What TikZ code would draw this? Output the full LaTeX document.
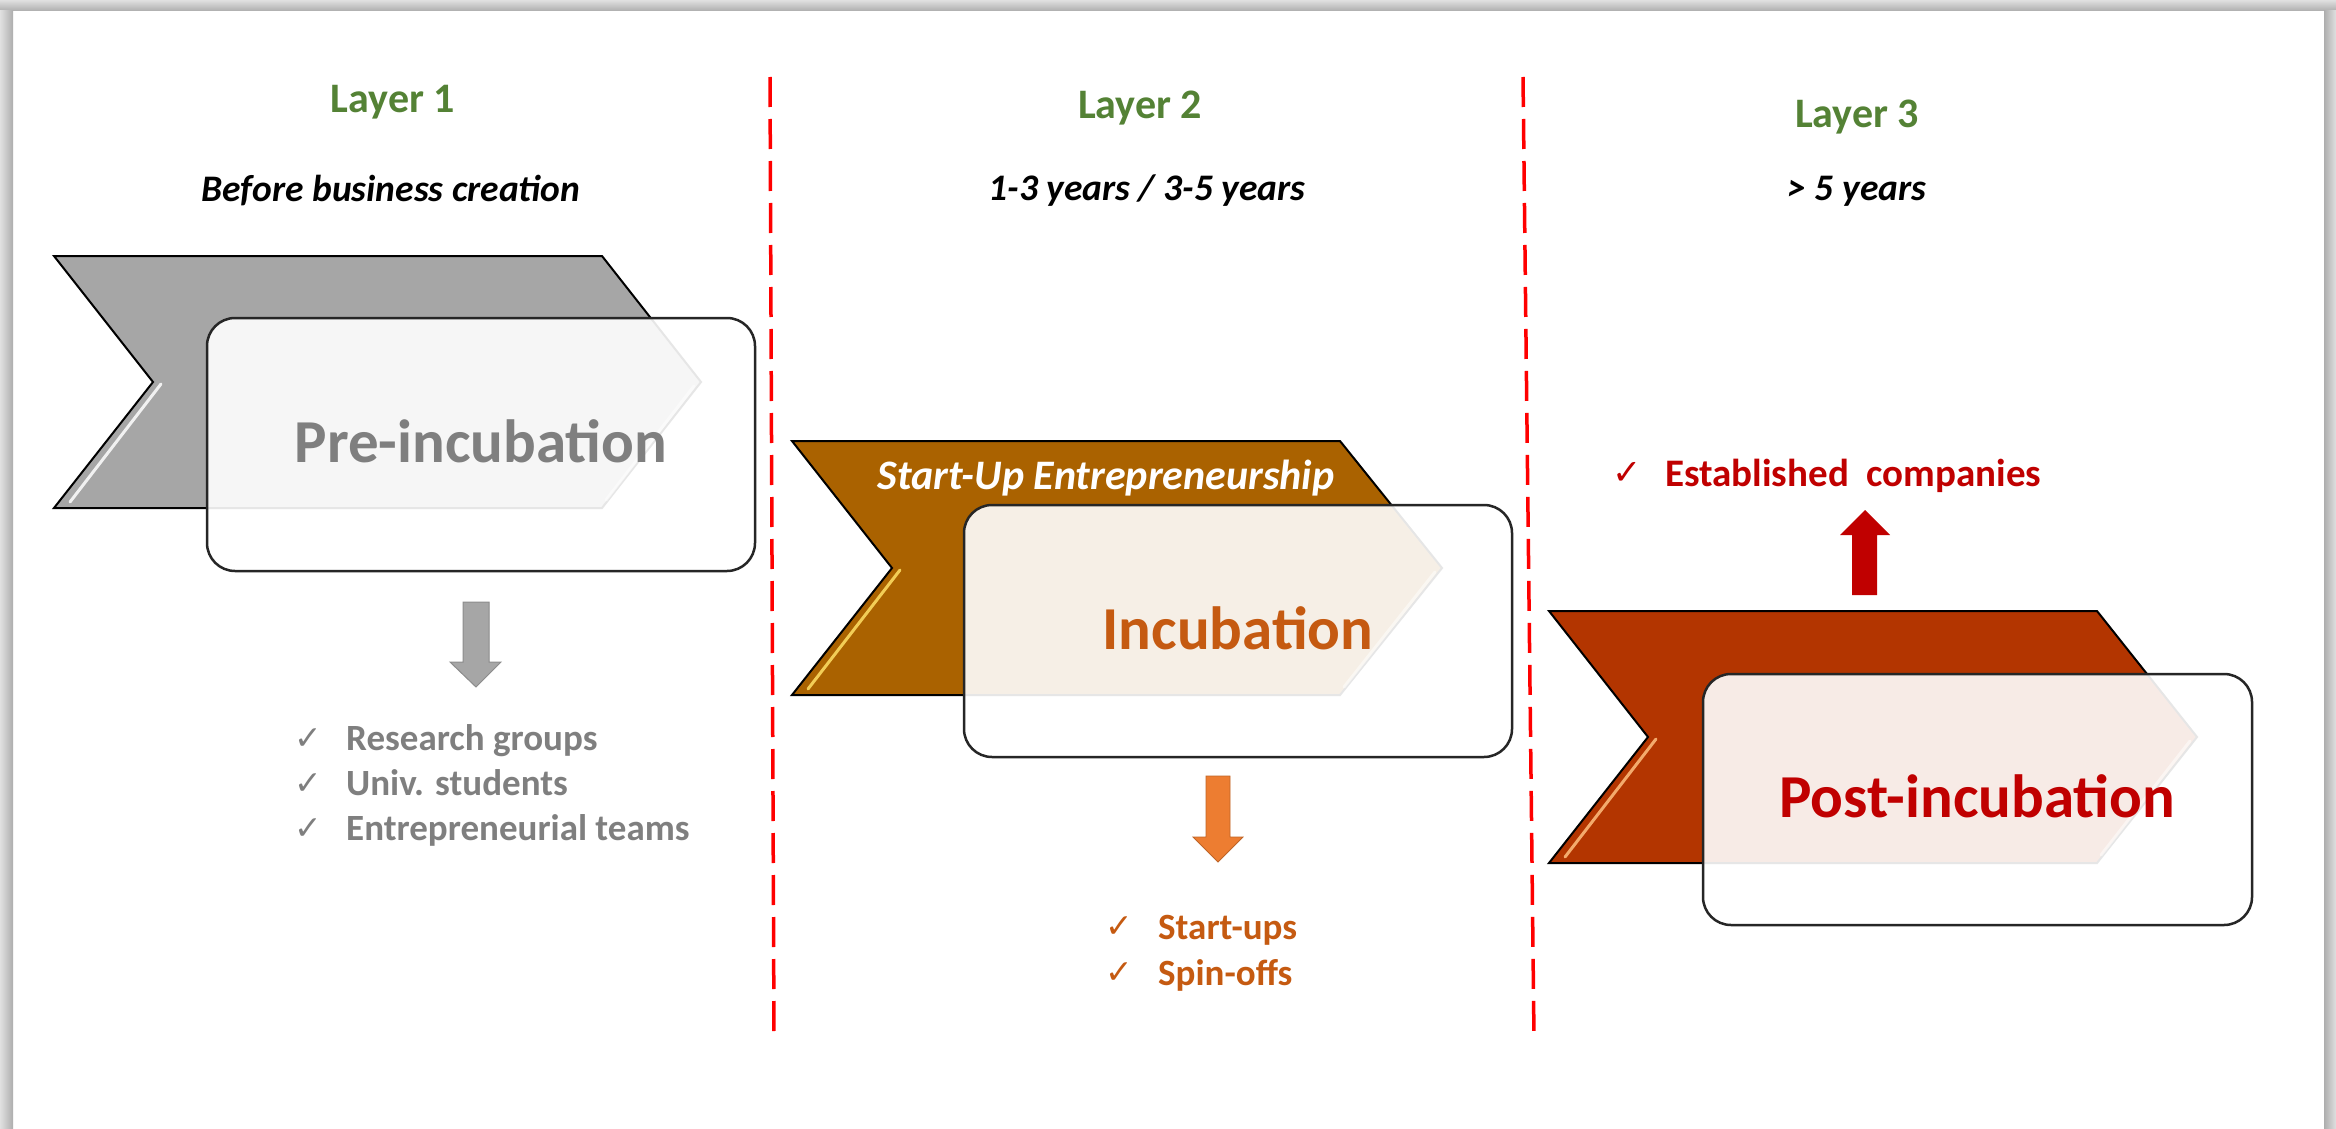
\documentclass[tikz,border=0pt]{standalone}
\usepackage{fontspec}
\setmainfont{Carlito}
\newfontfamily\chkfont{DejaVu Sans}
\usetikzlibrary{calc}
\definecolor{laygreen}{HTML}{548235}
\definecolor{chgray}{HTML}{A6A6A6}
\definecolor{chorange}{HTML}{AA6200}
\definecolor{chred}{HTML}{B33500}
\definecolor{txgray}{HTML}{7F7F7F}
\definecolor{txorange}{HTML}{C55A11}
\definecolor{arorange}{HTML}{ED7D31}
\definecolor{txred}{HTML}{C00000}
\definecolor{arrgray}{HTML}{A6A6A6}
\definecolor{divred}{HTML}{FF0000}
\tikzset{
  layer/.style={text=laygreen, font=\fontsize{42}{50}\selectfont\bfseries, anchor=base, inner sep=0pt},
  period/.style={text=black, font=\fontsize{37.5}{44}\selectfont\bfseries\itshape, anchor=base, inner sep=0pt},
  chevron/.style={draw=black, line width=2pt, line join=miter},
  glassbox/.style={draw=black!85, line width=2.5pt, rounded corners=28pt, fill=white, fill opacity=0.9, inner sep=0pt},
  mainlabel/.style={font=\fontsize{61}{70}\selectfont\bfseries, anchor=base, inner sep=0pt},
  listitem/.style={font=\fontsize{37}{42}\selectfont\bfseries, anchor=base west, inner sep=0pt},
  checkmark/.style={font=\chkfont\fontsize{33}{36}\selectfont, anchor=base west, inner sep=0pt},
  divider/.style={draw=divred, line width=3.5pt, dash pattern=on 30pt off 12pt},
  bevel/.style={line width=3pt, line cap=round, opacity=0.85},
}
\begin{document}
\begin{tikzpicture}[x=1pt,y=-1pt]
\useasboundingbox (0,0) rectangle (2336,1129);
\fill[white] (0,0) rectangle (2336,1129);
% frame shadow
\shade[top color=black!12, bottom color=black!32] (0,0) rectangle (2336,11);
\shade[left color=black!12, right color=black!32] (0,11) rectangle (13,1129);
\shade[left color=black!32, right color=black!12] (2324,11) rectangle (2336,1129);

% dividers
\draw[divider] (770,77) -- (774,1038);
\draw[divider] (1523,77) -- (1534,1038);

% headings
\node[layer] (l1) at (393,113) {Layer 1};
\node[layer] (l2) at (1140,119) {Layer 2};
\node[layer] (l3) at (1857,128) {Layer 3};
\node[period] (p1) at (391,201) {Before business creation};
\node[period] (p2) at (1147,200) {1-3 years / 3-5 years};
\node[period] (p3) at (1857,200) {> 5 years};

% chevron 1
\begin{scope}[shift={(54,256)}]
\fill[chgray, chevron] (0,0) -- (548,0) -- (647,126) -- (548,252) -- (0,252) -- (99,126) -- cycle;
\draw[bevel, white] (107,128) -- (16,246);
\draw[bevel, white, opacity=0.5] (640,130) -- (552,244);
\end{scope}
\node[glassbox, minimum width=548pt, minimum height=253pt] (r1) at (481,444.5) {};
\node[mainlabel, text=txgray] (t1) at (481,462) {Pre-incubation};

% chevron 2
\begin{scope}[shift={(792,441)}]
\fill[chorange, chevron] (0,0) -- (548,0) -- (650,127) -- (548,254) -- (0,254) -- (100,127) -- cycle;
\draw[bevel, orange!40!yellow!60!white] (108,129) -- (16,248);
\draw[bevel, white, opacity=0.5] (643,131) -- (552,246);
\end{scope}
\node[font=\fontsize{42}{50}\selectfont\bfseries\itshape, text=white, anchor=base, inner sep=0pt] (su) at (1106,489) {Start-Up Entrepreneurship};
\node[glassbox, minimum width=548pt, minimum height=252pt] (r2) at (1238,631) {};
\node[mainlabel, text=txorange] (t2) at (1238,649) {Incubation};

% chevron 3
\begin{scope}[shift={(1549,611)}]
\fill[chred, chevron] (0,0) -- (548,0) -- (648,126) -- (548,252) -- (0,252) -- (99,126) -- cycle;
\draw[bevel, orange!50!white] (107,128) -- (16,246);
\draw[bevel, white, opacity=0.5] (641,130) -- (552,244);
\end{scope}
\node[glassbox, minimum width=549pt, minimum height=251pt] (r3) at (1977.5,799.5) {};
\node[mainlabel, text=txred] (t3) at (1977,817) {Post-incubation};

% gray arrow down
\fill[arrgray, draw=black!45, line width=1pt] (463,602) -- (489,602) -- (489,662) -- (501,662) -- (476,687) -- (450,662) -- (463,662) -- cycle;
% orange arrow down
\fill[arorange, draw=arorange!80!black, line width=0.8pt] (1206,776) -- (1230,776) -- (1230,837) -- (1243,837) -- (1218,862) -- (1193,837) -- (1206,837) -- cycle;
% red arrow up
\fill[txred] (1852,595) -- (1877,595) -- (1877,535) -- (1890,535) -- (1865,510) -- (1840,535) -- (1852,535) -- cycle;

% lists
\node[checkmark, text=txgray] (c1) at (294,749) {✓};
\node[checkmark, text=txgray] (c2) at (294,794) {✓};
\node[checkmark, text=txgray] (c3) at (294,839) {✓};
\node[listitem, text=txgray] (i1) at (346,750) {Research groups};
\node[listitem, text=txgray] (i2) at (346,795) {Univ. students};
\node[listitem, text=txgray] (i3) at (346,840) {Entrepreneurial teams};

\node[checkmark, text=txorange] (c4) at (1105,937) {✓};
\node[checkmark, text=txorange] (c5) at (1105,983) {✓};
\node[listitem, text=txorange] (i4) at (1158,939) {Start-ups};
\node[listitem, text=txorange] (i5) at (1158,985) {Spin-offs};

\node[checkmark, text=txred, font=\chkfont\fontsize{35}{38}\selectfont] (c6) at (1612,484) {✓};
\node[listitem, text=txred, font=\fontsize{39}{46}\selectfont\bfseries] (i6) at (1665,486) {Established\ \ companies};
\end{tikzpicture}
\end{document}
